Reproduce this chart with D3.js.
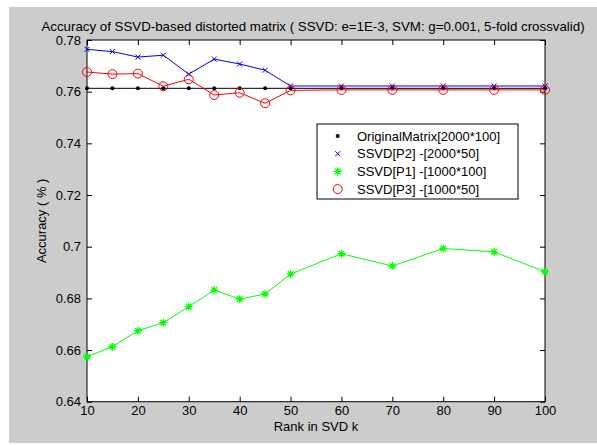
<!DOCTYPE html>
<html lang="en">
<head>
    <meta charset="UTF-8">
    <title>SSVD accuracy</title>
    <style>
        body { margin: 0; background: #ffffff; }
        text { font-family: "Liberation Sans", Arial, sans-serif; fill: #000; }
        .tick text { font-size: 13px; }
        .tick line { stroke: #000; }
        .domain { display: none; }
    </style>
    <script src="https://cdn.jsdelivr.net/npm/d3@7"></script>
</head>
<body>
<div id="chart"></div>
<script>
    // x values (rank k)
    var ranks = [10, 15, 20, 25, 30, 35, 40, 45, 50, 60, 70, 80, 90, 100];
    var original = [0.7613, 0.7613, 0.7613, 0.7613, 0.7613, 0.7613, 0.7613, 0.7613, 0.7613, 0.7613, 0.7613, 0.7613, 0.7613, 0.7613];
    var ssvdP2 = [0.7764, 0.7755, 0.7734, 0.7741, 0.7668, 0.7726, 0.7707, 0.7683, 0.7622, 0.7622, 0.7622, 0.7622, 0.7622, 0.7622];
    var ssvdP1 = [0.6574, 0.6613, 0.6675, 0.6706, 0.6768, 0.6832, 0.6797, 0.6817, 0.6894, 0.6973, 0.6925, 0.6993, 0.6980, 0.6903];
    var ssvdP3 = [0.7676, 0.7668, 0.7670, 0.7621, 0.7648, 0.7587, 0.7596, 0.7555, 0.7605, 0.7607, 0.7607, 0.7607, 0.7607, 0.7607];
    var xTicks = [10, 20, 30, 40, 50, 60, 70, 80, 90, 100];
    var yTicks = [0.64, 0.66, 0.68, 0.70, 0.72, 0.74, 0.76, 0.78];
    var legendLabels = ["OriginalMatrix[2000*100]", "SSVD[P2] -[2000*50]", "SSVD[P1] -[1000*100]", "SSVD[P3] -[1000*50]"];

    var W = 597, H = 445;
    var plot = {left: 87, right: 545, top: 40, bottom: 401.7};

    var svg = d3.select("#chart").append("svg")
        .attr("width", W)
        .attr("height", H);

    // grey figure background
    svg.append("rect")
        .attr("x", 9).attr("y", 7)
        .attr("width", W - 9).attr("height", 436)
        .attr("fill", "#cccccc");

    svg.append("rect")
        .attr("x", plot.left).attr("y", plot.top)
        .attr("width", plot.right - plot.left).attr("height", plot.bottom - plot.top)
        .attr("fill", "#ffffff");

    var x = d3.scaleLinear().domain([10, 100]).range([plot.left, plot.right]);
    var y = d3.scaleLinear().domain([0.64, 0.78]).range([plot.bottom, plot.top]);

    var fmtY = function (d) { return d3.format("")(+d.toFixed(2)); };

    // axes, ticks pointing inward like matlab
    svg.append("g")
        .attr("transform", "translate(0," + plot.bottom + ")")
        .call(d3.axisBottom(x).tickValues(xTicks).tickSize(-5).tickPadding(4))
        .selectAll("text").attr("dy", "0.71em");
    svg.append("g")
        .attr("transform", "translate(0," + plot.top + ")")
        .call(d3.axisTop(x).tickValues(xTicks).tickSize(-5).tickFormat(""));
    svg.append("g")
        .attr("transform", "translate(" + plot.left + ",0)")
        .call(d3.axisLeft(y).tickValues(yTicks).tickSize(-5).tickPadding(6).tickFormat(fmtY));
    svg.append("g")
        .attr("transform", "translate(" + plot.right + ",0)")
        .call(d3.axisRight(y).tickValues(yTicks).tickSize(-5).tickFormat(""));

    svg.append("rect")
        .attr("x", plot.left).attr("y", plot.top)
        .attr("width", plot.right - plot.left).attr("height", plot.bottom - plot.top)
        .attr("fill", "none")
        .attr("stroke", "#000")
        .attr("stroke-width", 1);

    var line = d3.line()
        .x(function (d) { return x(d[0]); })
        .y(function (d) { return y(d[1]); });

    function pairs(vals) {
        return ranks.map(function (r, i) { return [r, vals[i]]; });
    }

    var series = [
        {vals: original, color: "#000000", marker: "dot"},
        {vals: ssvdP2, color: "#0000ff", marker: "x"},
        {vals: ssvdP1, color: "#00ff00", marker: "star"},
        {vals: ssvdP3, color: "#ff0000", marker: "circle"}
    ];

    function drawMarker(g, kind, color) {
        if (kind === "dot") {
            g.append("circle").attr("r", 2).attr("fill", color);
        } else if (kind === "x") {
            g.append("path").attr("d", "M-2.5,-2.5L2.5,2.5M-2.5,2.5L2.5,-2.5")
                .attr("stroke", color).attr("fill", "none");
        } else if (kind === "star") {
            g.append("path").attr("d", "M-4,0L4,0M0,-4L0,4M-2.8,-2.8L2.8,2.8M-2.8,2.8L2.8,-2.8")
                .attr("stroke", color).attr("stroke-width", 1.3).attr("fill", "none");
        } else {
            g.append("circle").attr("r", 4.5).attr("fill", "none")
                .attr("stroke", color);
        }
    }

    series.forEach(function (s) {
        svg.append("path")
            .datum(pairs(s.vals))
            .attr("fill", "none")
            .attr("stroke", s.color)
            .attr("stroke-width", 1)
            .attr("d", line);
        pairs(s.vals).forEach(function (p) {
            var g = svg.append("g").attr("transform", "translate(" + x(p[0]) + "," + y(p[1]) + ")");
            drawMarker(g, s.marker, s.color);
        });
    });

    // legend
    var lg = svg.append("g").attr("transform", "translate(317,124)");
    lg.append("rect")
        .attr("width", 201).attr("height", 75)
        .attr("fill", "#ffffff")
        .attr("stroke", "#000")
        .attr("stroke-width", 1);
    legendLabels.forEach(function (lab, i) {
        var cy = 12 + i * 17.7;
        var m = lg.append("g").attr("transform", "translate(20.7," + cy + ")");
        drawMarker(m, series[i].marker, series[i].color);
        lg.append("text")
            .attr("x", 40)
            .attr("y", cy)
            .attr("dy", "0.35em")
            .style("font-size", "13px")
            .text(lab);
    });

    // title and axis labels
    svg.append("text")
        .attr("x", 313)
        .attr("y", 31)
        .attr("text-anchor", "middle")
        .style("font-size", "13.3px")
        .text("Accuracy of SSVD-based distorted matrix ( SSVD: e=1E-3, SVM: g=0.001, 5-fold crossvalid)");

    svg.append("text")
        .attr("x", (plot.left + plot.right) / 2)
        .attr("y", 431)
        .attr("text-anchor", "middle")
        .style("font-size", "13px")
        .text("Rank in SVD k");

    svg.append("text")
        .attr("transform", "translate(46," + ((plot.top + plot.bottom) / 2) + ") rotate(-90)")
        .attr("text-anchor", "middle")
        .style("font-size", "13px")
        .text("Accuracy ( % )");
</script>
</body>
</html>
